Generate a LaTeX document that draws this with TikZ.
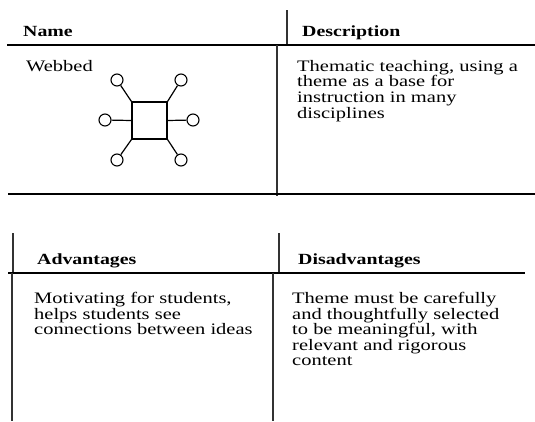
\documentclass[tikz,border=0pt]{standalone}
\usepackage{fontspec}
\setmainfont[FakeStretch=1.28]{Liberation Serif}
\begin{document}
\begin{tikzpicture}[x=1pt,y=-1pt,
  txt/.style={anchor=north west,inner sep=0pt,align=left,font=\fontsize{16}{15.6}\selectfont},
  hdr/.style={anchor=north west,inner sep=0pt,font=\fontsize{15.5}{16}\selectfont\bfseries},
  hline/.style={line width=1.8pt,black},
  vline/.style={line width=1.5pt,black!80},
  web/.style={line width=1.2pt},
  bub/.style={circle,draw,line width=1.1pt,minimum size=12pt,inner sep=0pt}]
\useasboundingbox (0,0) rectangle (535,421);
% ---- top table ----
\coordinate (t1a) at (287,10); \coordinate (t1b) at (287,44);
\coordinate (h1a) at (7,45);  \coordinate (h1b) at (535,45);
\coordinate (t2a) at (277,45); \coordinate (t2b) at (277,196);
\coordinate (h2a) at (8,194); \coordinate (h2b) at (535,194);
\draw[vline] (t1a) -- (t1b);
\draw[hline] (h1a) -- (h1b);
\draw[vline] (t2a) -- (t2b);
\draw[hline] (h2a) -- (h2b);
\node[hdr] (name) at (23,26) {Name};
\node[hdr] (desc) at (302,26) {Description};
\node[txt] (webbed) at (26,60) {Webbed};
\node[txt] (desctext) at (297,60) {Thematic teaching, using a\\theme as a base for\\instruction in many\\disciplines};
% webbed figure
\node[draw,web,minimum width=35pt,minimum height=37pt,inner sep=0pt] (sq) at (149.5,120.5) {};
\node[bub] (c1) at (117,80) {};
\node[bub] (c2) at (181,80) {};
\node[bub] (c3) at (105,120) {};
\node[bub] (c4) at (193,120) {};
\node[bub] (c5) at (117,160) {};
\node[bub] (c6) at (181,160) {};
\draw[web] (sq.north west) -- (c1);
\draw[web] (sq.north east) -- (c2);
\draw[web] (sq.west) -- (c3);
\draw[web] (sq.east) -- (c4);
\draw[web] (sq.south west) -- (c5);
\draw[web] (sq.south east) -- (c6);
% ---- bottom table ----
\coordinate (u1a) at (13,233); \coordinate (u1b) at (13,273);
\coordinate (u2a) at (279,233); \coordinate (u2b) at (279,273);
\coordinate (h3a) at (8,273); \coordinate (h3b) at (525,273);
\coordinate (l1a) at (12,273); \coordinate (l1b) at (12,421);
\coordinate (l2a) at (273,273); \coordinate (l2b) at (273,421);
\draw[vline] (u1a) -- (u1b);
\draw[vline] (u2a) -- (u2b);
\draw[hline] (h3a) -- (h3b);
\draw[vline] (l1a) -- (l1b);
\draw[vline] (l2a) -- (l2b);
\node[hdr] (adv) at (37,254) {Advantages};
\node[hdr] (disadv) at (298,254) {Disadvantages};
\node[txt] (advtext) at (34,292) {Motivating for students,\\helps students see\\connections between ideas};
\node[txt] (distext) at (292,292) {Theme must be carefully\\and thoughtfully selected\\to be meaningful, with\\relevant and rigorous\\content};
\end{tikzpicture}
\end{document}
